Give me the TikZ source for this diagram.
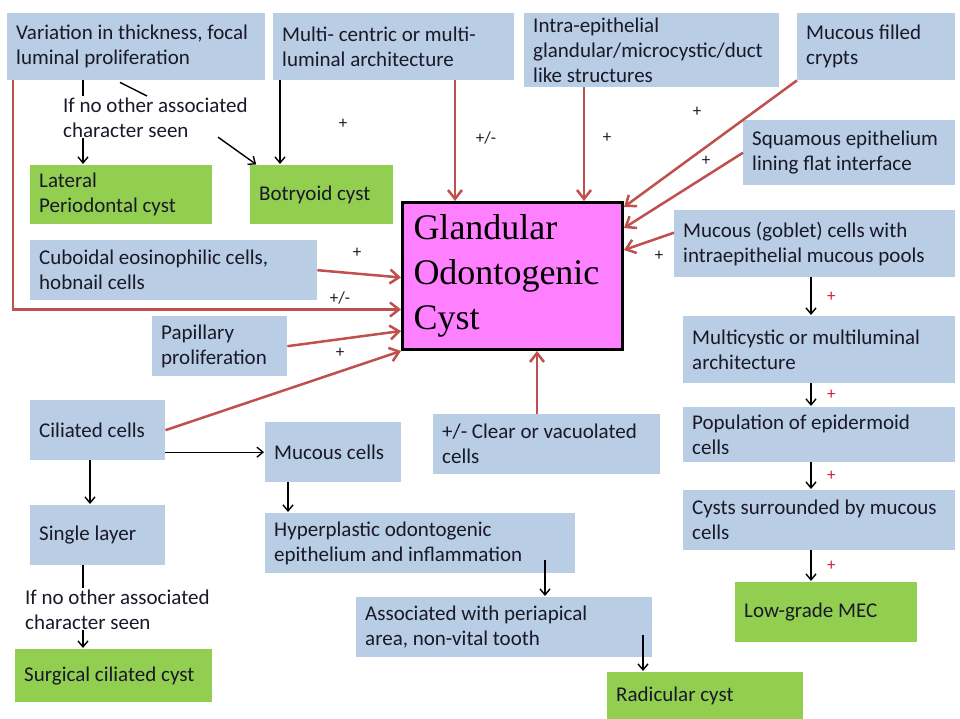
\documentclass[tikz,border=0pt]{standalone}
\usepackage{fontspec}
\setmainfont{Carlito}
\newfontfamily\titlefont{Liberation Serif}
\usetikzlibrary{arrows.meta}

\definecolor{boxblue}{RGB}{185,205,229}
\definecolor{boxgreen}{RGB}{146,206,80}
\definecolor{cystpink}{RGB}{255,128,255}
\definecolor{arrowred}{RGB}{192,80,77}
\definecolor{plusred}{RGB}{200,30,50}
\definecolor{txtdark}{RGB}{25,25,40}

\begin{document}
\begin{tikzpicture}[x=1pt,y=-1pt,>={Straight Barb[length=6pt,width=10pt]},
    every node/.style={font=\fontsize{21}{25}\selectfont,text=txtdark},
    bluebox/.style={fill=boxblue,anchor=north west,align=flush left,inner xsep=9pt,inner ysep=0pt},
    greenbox/.style={bluebox,fill=boxgreen},
    cystbox/.style={fill=cystpink,draw=black,line width=3pt,anchor=north west,align=flush left,
                    inner xsep=11pt,inner ysep=0pt,text=black,font=\titlefont\fontsize{36}{45}\selectfont},
    note/.style={anchor=north west,align=left,inner sep=0pt},
    sign/.style={font=\fontsize{17}{20}\selectfont},
    redsign/.style={sign,text=plusred,right=12pt},
    redarrow/.style={-{Straight Barb[length=9pt,width=14pt]},draw=arrowred,line width=2.5pt},
    blackarrow/.style={->,line width=1.4pt,shorten >=1pt},
    blackline/.style={line width=1.4pt}]

    \fill[white] (0,0) rectangle (960,719);
    \useasboundingbox (0,0) rectangle (960,719);

    \node[bluebox,text width=240pt,minimum height=67pt]  (var) at (7,13)    {Variation in thickness, focal\\luminal proliferation};
    \node[bluebox,text width=223pt,minimum height=67pt]  (mc)  at (273,13)  {Multi- centric or multi-\\luminal architecture};
    \node[bluebox,text width=237pt,minimum height=74pt]  (ie)  at (524,13)  {Intra-epithelial\\glandular/microcystic/duct\\like structures};
    \node[bluebox,text width=140pt,minimum height=67pt]  (mfc) at (797,13)  {Mucous filled\\crypts};
    \node[bluebox,text width=194pt,minimum height=65pt]  (sq)  at (743,120) {Squamous epithelium\\lining flat interface};
    \node[bluebox,text width=263pt,minimum height=67pt]  (gob) at (674,210) {Mucous (goblet) cells with\\intraepithelial mucous pools};
    \node[bluebox,text width=254pt,minimum height=67pt]  (mcy) at (683,316) {Multicystic or multiluminal\\architecture};
    \node[bluebox,text width=254pt,minimum height=55pt]  (pop) at (683,407) {Population of epidermoid\\cells};
    \node[bluebox,text width=254pt,minimum height=60pt]  (csm) at (683,490) {Cysts surrounded by mucous\\cells};
    \node[greenbox,text width=164pt,minimum height=60pt] (mec) at (735,582) {Low-grade MEC};
    \node[greenbox,text width=178pt,minimum height=47pt] (rad) at (607,672) {Radicular cyst};

    \node[greenbox,text width=164pt,minimum height=59pt] (lpc) at (30,165)  {Lateral\\Periodontal cyst};
    \node[greenbox,text width=125pt,minimum height=59pt] (bot) at (250,165) {Botryoid cyst};
    \node[bluebox,text width=269pt,minimum height=60pt]  (cub) at (30,240)  {Cuboidal eosinophilic cells,\\hobnail cells};
    \node[bluebox,text width=117pt,minimum height=60pt]  (pap) at (152,316) {Papillary\\proliferation};
    \node[bluebox,text width=117pt,minimum height=60pt]  (cil) at (30,400)  {Ciliated cells};
    \node[bluebox,text width=117pt,minimum height=60pt]  (sgl) at (30,505)  {Single layer};
    \node[greenbox,text width=179pt,minimum height=53pt] (scc) at (15,649)  {Surgical ciliated cyst};
    \node[bluebox,text width=118pt,minimum height=60pt]  (muc) at (265,422) {Mucous cells};
    \node[bluebox,text width=209pt,minimum height=60pt]  (clr) at (433,414) {+/- Clear or vacuolated\\cells};
    \node[bluebox,text width=292pt,minimum height=60pt]  (hyp) at (265,513) {Hyperplastic odontogenic\\epithelium and inflammation};
    \node[bluebox,text width=278pt,minimum height=60pt]  (ass) at (356,597) {Associated with periapical\\area, non-vital tooth};

    \node[cystbox,text width=198pt,minimum height=147pt] (goc) at (401,201) {Glandular\\Odontogenic\\Cyst};

    \node[note] (note1) at (63,98)  {If no other associated\\character seen};
    \node[note] (note2) at (25,590) {If no other associated\\character seen};

    \coordinate (vA) at ([xshift=76pt]var.south west);
    \coordinate (vB) at ([xshift=113pt,yshift=-2pt]var.south west);
    \coordinate (mA) at ([xshift=7pt]mc.south west);
    \coordinate (mB) at ([xshift=182pt]mc.south west);
    \coordinate (iA) at ([xshift=60pt]ie.south west);
    \coordinate (kA) at ([xshift=104pt]clr.north west);
    \coordinate (cB) at ([xshift=60pt]cil.south west);
    \coordinate (sA) at ([xshift=53pt]sgl.south west);
    \coordinate (uA) at ([xshift=23pt]muc.south west);
    \coordinate (hA) at ([xshift=280pt,yshift=13pt]hyp.south west);
    \coordinate (aA) at ([xshift=287pt,yshift=22pt]ass.south west);
    \coordinate (gA) at ([xshift=137pt]gob.south west);

    \draw[blackline]  (vA) -- ([yshift=2pt]vA |- note1.north);
    \draw[blackarrow] (note1.south -| vA) -- (vA |- lpc.north);
    \draw[blackline]  (vB) -- ([xshift=84pt,yshift=2pt]note1.north west);
    \draw[blackarrow] ([xshift=155pt,yshift=1pt]note1.south west) -- ([xshift=7pt]bot.north west);
    \draw[blackarrow] (mA) -- (mA |- bot.north);
    \draw[blackarrow] (cil.east |- muc.west) -- (muc.west);
    \draw[blackarrow] (cB) -- (cB |- sgl.north);
    \draw[blackline]  (sA) -- ([yshift=2pt]sA |- note2.north);
    \draw[blackarrow] (note2.south -| sA) -- (sA |- scc.north);
    \draw[blackarrow] (uA) -- (uA |- hyp.north);
    \draw[blackarrow] (hA) -- (hA |- ass.north);
    \draw[blackarrow] (aA) -- (aA |- rad.north);

    \draw[blackarrow] (gA) -- (gA |- mcy.north) node[midway,redsign] (r1) {+};
    \draw[blackarrow] (gA |- mcy.south) -- (gA |- pop.north) node[midway,redsign] (r2) {+};
    \draw[blackarrow] (gA |- pop.south) -- (gA |- csm.north) node[midway,redsign] (r3) {+};
    \draw[blackarrow] (gA |- csm.south) -- (gA |- mec.north) node[midway,redsign] (r4) {+};

    \draw[redarrow] ([xshift=6pt]var.south west) |- ([yshift=-33.5pt]goc.west);
    \draw[redarrow] (cub.east) -- ([yshift=-1.5pt]goc.west);
    \draw[redarrow] (pap.east) -- ([yshift=-55pt]goc.west);
    \draw[redarrow] (cil.east) -- (goc.south west);
    \draw[redarrow] (mB) -- (mB |- goc.north);
    \draw[redarrow] (iA) -- (iA |- goc.north);
    \draw[redarrow] (mfc.south west) -- ([yshift=-6pt]goc.north east);
    \draw[redarrow] (sq.west) -- ([yshift=-27pt]goc.north east);
    \draw[redarrow] ([yshift=11pt]gob.west) -- ([yshift=-49pt]goc.north east);
    \draw[redarrow] (kA) -- (kA |- goc.south);

    \node[sign] (s1) at (343,124) {+};
    \node[sign] (s2) at (486,138) {+/-};
    \node[sign] (s3) at (607,138) {+};
    \node[sign] (s4) at (697,112) {+};
    \node[sign] (s5) at (706,161) {+};
    \node[sign] (s6) at (659,256) {+};
    \node[sign] (s7) at (357,253) {+};
    \node[sign] (s8) at (340,298) {+/-};
    \node[sign] (s9) at (340,353) {+};
\end{tikzpicture}
\end{document}
